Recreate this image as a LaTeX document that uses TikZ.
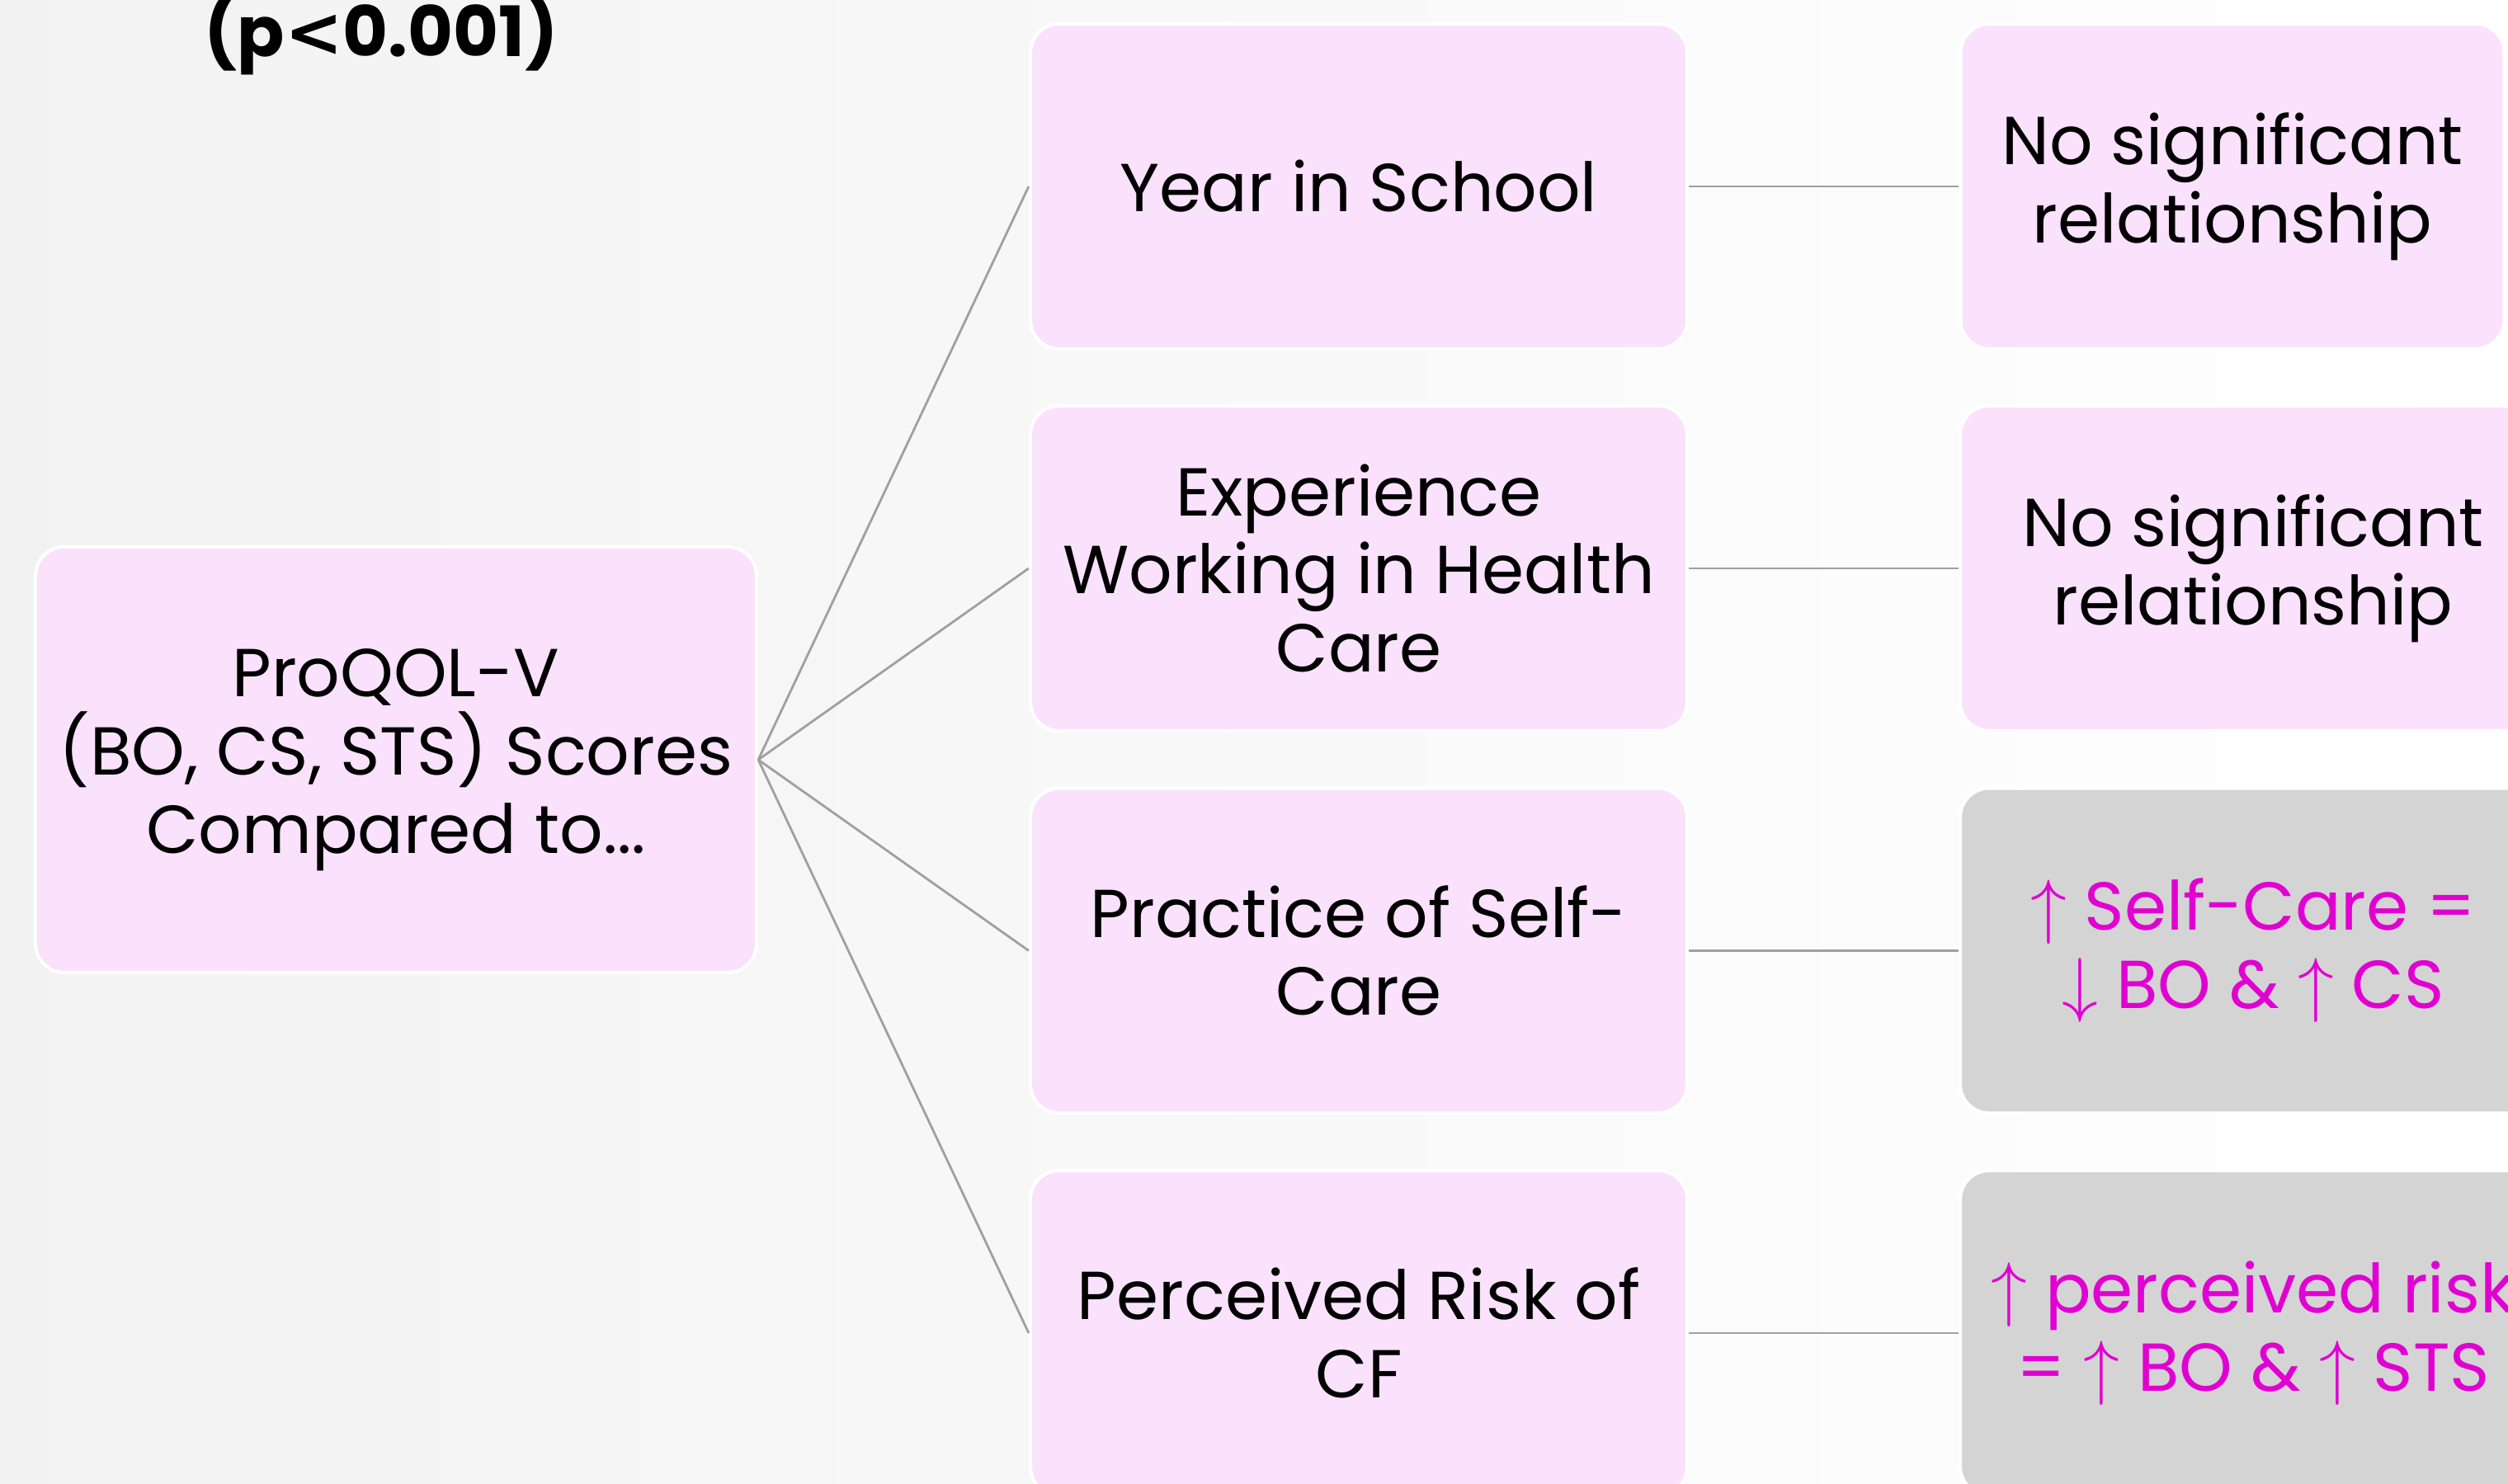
\documentclass[tikz,border=0pt]{standalone}
\usepackage{fontspec}
\setmainfont{Poppins}
\newfontfamily\symbfont{DejaVu Sans}
\usetikzlibrary{positioning}

\definecolor{boxpink}{RGB}{250,225,252}
\definecolor{boxgrey}{RGB}{212,212,212}
\definecolor{linkgrey}{RGB}{160,160,160}
\definecolor{hilite}{RGB}{225,0,210}

\newcommand{\uparr}{$\uparrow$}
\newcommand{\downarr}{$\downarrow$}

\tikzset{
    pinkbox/.style={rectangle, rounded corners=0.35cm, fill=boxpink, draw=white,
        line width=1.2pt, align=center, inner sep=0pt,
        font=\fontsize{23.4}{27}\selectfont},
    greybox/.style={pinkbox, fill=boxgrey, text=hilite},
    link/.style={draw=linkgrey, line width=0.8pt}
}

\begin{document}
\begin{tikzpicture}
    \useasboundingbox (0,0) rectangle (30.4,17.99);
    \clip (0,0) rectangle (30.4,17.99);
    \shade[left color=black!5, right color=white] (0,0) rectangle (30.4,17.99);

    % title fragment
    \node (pval) at (4.62,17.58) [font=\fontsize{24}{27}\selectfont\bfseries]
        {(p{\symbfont\bfseries <}0.001)};

    % root box
    \node[pinkbox, minimum width=8.74cm, minimum height=5.16cm] (root) at (4.80,8.78)
        {ProQOL-V\\(BO, CS, STS) Scores\\Compared to...};

    % factors
    \node[pinkbox, minimum width=7.96cm, minimum height=3.94cm] (f1) at (16.47,15.73) {Year in School};
    \node[pinkbox, minimum width=7.96cm, minimum height=3.94cm] (f2) at (16.47,11.10) {Experience\\Working in Health\\Care};
    \node[pinkbox, minimum width=7.96cm, minimum height=3.94cm] (f3) at (16.47,6.465) {Practice of Self-\\Care};
    \node[pinkbox, minimum width=7.96cm, minimum height=3.94cm] (f4) at (16.47,1.83) {Perceived Risk of\\CF};

    % results
    \node[pinkbox, minimum width=6.59cm, minimum height=3.94cm] (r1) at (27.06,15.73) {No significant\\relationship};
    \node[pinkbox, minimum width=7.10cm, minimum height=3.94cm] (r2) at (27.31,11.10) {No significant\\relationship};
    \node[greybox, minimum width=7.10cm, minimum height=3.94cm] (r3) at (27.31,6.465)
        {\uparr\ Self-Care =\\\downarr\ BO \& \uparr\ CS};
    \node[greybox, minimum width=7.10cm, minimum height=3.94cm] (r4) at (27.31,1.83)
        {\uparr\ perceived risk\\= \uparr\ BO \& \uparr\ STS};

    \foreach \i in {1,...,4} {
        \draw[link] (root.east) -- (f\i.west);
        \draw[link] (f\i.east) -- (r\i.west);
    }
\end{tikzpicture}
\end{document}
